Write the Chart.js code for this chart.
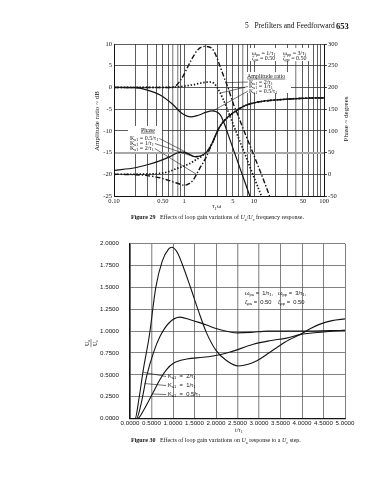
<!DOCTYPE html>
<html>
<head>
<meta charset="utf-8">
<script src="https://cdn.jsdelivr.net/npm/chart.js@4.4.1/dist/chart.umd.min.js"></script>
<style>
body{margin:0;width:388px;height:480px;background:#fff;position:relative;overflow:hidden;font-family:"Liberation Serif",serif;color:#111}
.txt{position:absolute;white-space:nowrap;line-height:1;will-change:transform}
.txt sub{font-size:70%;vertical-align:-2px;line-height:0}
#freqWrap{position:absolute;left:60px;top:36px;width:328px;height:180px}
#stepWrap{position:absolute;left:64px;top:229px;width:300px;height:207px}
</style>
</head>
<body>
<div class="txt" style="left:245px;top:22px;font-size:7.5px">5&nbsp;&nbsp;&nbsp;Prefilters and Feedforward</div>
<div class="txt" style="left:336px;top:21.5px;font-size:8.5px;font-weight:bold">653</div>
<div id="freqWrap"><canvas id="freq"></canvas></div>
<div class="txt" style="left:131px;top:214px;font-size:6px"><b>Figure 29</b>&nbsp;&nbsp;&nbsp;Effects of loop gain variations of <i>U</i><sub>a</sub>/<i>U</i><sub>c</sub> frequency response.</div>
<div id="stepWrap"><canvas id="step"></canvas></div>
<div class="txt" style="left:131px;top:437px;font-size:6px"><b>Figure 30</b>&nbsp;&nbsp;&nbsp;Effects of loop gain variations on <i>U</i><sub>a</sub> response to a <i>U</i><sub>c</sub> step.</div>
<script>
// ---- Figure 29 data: [tau1*omega, value]
const freqGrid = [0.1,0.2,0.3,0.4,0.5,0.6,0.7,0.8,0.9,1,2,3,4,5,6,7,8,9,10,20,30,40,50,60,70,80,90,100];
const freqLabels = {0.1:'0.10', 0.5:'0.50', 1:'1', 5:'5', 10:'10', 50:'50', 100:'100'};

// amplitude ratio, dB
const ampK2 = [[0.1,0],[0.3,0],[0.6,0],[0.75,0.3],[0.87,1.4],[1.0,3.0],[1.08,4.1],[1.28,6.4],[1.58,8.7],[1.98,9.45],[2.46,9.1],[2.8,7.7],[3.2,5.3],[3.7,2.5],[4.24,0],[5,-3.5],[5.9,-6.4],[7,-9.5],[10,-15.7],[14,-21.7],[16.7,-25]];
const ampK1 = [[0.1,0],[0.6,0],[0.9,0.2],[1.34,0.6],[1.8,1.05],[2.3,1.25],[2.7,0.9],[3.1,-0.5],[3.6,-2.6],[4.48,-6.4],[6,-11.6],[8,-16.7],[10,-20.7],[12.76,-25]];
const ampK05 = [[0.1,0],[0.2,-0.05],[0.29,-0.55],[0.45,-1.7],[0.7,-4.0],[0.92,-5.9],[1.25,-6.8],[1.6,-6.4],[2.08,-5.7],[2.5,-5.4],[2.9,-5.6],[3.3,-6.3],[3.7,-8.0],[4.57,-12.2],[6,-17.6],[8.7,-25]];

// phase, degrees (all three merge above ~2)
const phaseTail = [[2.5,70],[3.2,108],[4,128],[5,141],[6,150],[8,160],[12,167],[20,171],[50,175],[100,176]];
const phaseK05 = [[0.1,9],[0.2,15],[0.3,22],[0.45,31],[0.62,40],[0.8,49],[0.95,51],[1.15,47],[1.4,41],[1.7,42],[2.1,51]];
const phaseK1 = [[0.1,0],[0.3,0.5],[0.45,2],[0.6,6],[0.78,13],[1.0,19],[1.21,25],[1.5,34],[1.87,44],[2.2,55]];
const phaseK2 = [[0.1,0],[0.2,-1],[0.3,-3],[0.45,-8],[0.6,-14],[0.78,-20],[1.02,-25],[1.2,-21],[1.34,-14],[1.67,13],[2.08,40]];

// ---- Figure 30 data: [t/tau1, Ua/Uc]
const stepK2 = [[0,0],[0.12,0],[0.2,0.2],[0.31,0.56],[0.45,0.95],[0.6,1.5],[0.75,1.8],[0.9,1.94],[0.97,1.96],[1.1,1.9],[1.25,1.72],[1.4,1.51],[1.6,1.22],[1.78,0.98],[2.0,0.78],[2.25,0.66],[2.52,0.60],[2.75,0.62],[2.95,0.66],[3.2,0.74],[3.41,0.81],[3.7,0.9],[3.95,0.96],[4.2,1.03],[4.42,1.08],[4.7,1.12],[5.0,1.14]];
const stepK1 = [[0,0],[0.15,0],[0.25,0.15],[0.39,0.49],[0.55,0.76],[0.7,0.94],[0.9,1.09],[1.16,1.16],[1.4,1.13],[1.6,1.1],[1.78,1.07],[2.0,1.03],[2.33,0.99],[2.5,0.98],[2.8,0.985],[3.2,1.0],[3.6,1.0],[4.0,1.0],[5.0,1.01]];
const stepK05 = [[0,0],[0.18,0],[0.3,0.08],[0.54,0.30],[0.7,0.45],[0.85,0.56],[1.0,0.63],[1.32,0.68],[1.7,0.70],[2.09,0.73],[2.33,0.76],[2.87,0.85],[3.25,0.89],[3.64,0.92],[3.95,0.96],[4.5,0.99],[5.0,1.01]];
const stepXTicks = [0,0.5,1,1.5,2,2.5,3,3.5,4,4.5,5];
const stepYTicks = [0,0.25,0.5,0.75,1,1.25,1.5,1.75,2];

const INK = '#151515';
const SOLID = [], DOTS = [1.4, 1.8], DASHDOT = [5, 2, 1.4, 2];

function curve(points, axis, dash, width) {
    return {
        data: points.map(p => ({x: p[0], y: p[1]})),
        yAxisID: axis,
        borderColor: INK,
        borderWidth: width,
        borderDash: dash,
        pointRadius: 0,
        fill: false,
        cubicInterpolationMode: 'monotone'
    };
}

// text with _{sub} parts, drawn left aligned from x, middle at y
function rich(ctx, str, x, y, size, family) {
    const parts = str.split(/(_\{[^}]*\})/).filter(s => s.length);
    ctx.textBaseline = 'middle';
    ctx.textAlign = 'left';
    parts.forEach(p => {
        if (p.startsWith('_{')) {
            const t = p.slice(2, -1);
            ctx.font = (size * 0.7) + 'px ' + family;
            ctx.fillText(t, x, y + size * 0.3);
            x += ctx.measureText(t).width;
        } else {
            ctx.font = size + 'px ' + family;
            ctx.fillText(p, x, y);
            x += ctx.measureText(p).width;
        }
    });
    return x;
}

function leader(ctx, x1, y1, x2, y2) {
    ctx.beginPath();
    ctx.moveTo(x1, y1);
    ctx.lineTo(x2, y2);
    ctx.stroke();
}

const SERIF = '"Liberation Serif", serif';
const SANS = '"Liberation Sans", Arial, sans-serif';

// page coords -> canvas coords for Figure 29
const FX = 60, FY = 36;

const freqText = {
    id: 'freqText',
    beforeDatasetsDraw(chart) {
        const ctx = chart.ctx;
        ctx.save();
        ctx.fillStyle = '#fff';
        ctx.fillRect(250 - FX, 48 - FY, 62, 13);
        ctx.fillRect(245 - FX, 72 - FY, 46, 21);
        ctx.fillRect(128 - FX, 126 - FY, 34, 26);
        ctx.restore();
    },
    afterDraw(chart) {
        const ctx = chart.ctx, xs = chart.scales.x, ys = chart.scales.y, ps = chart.scales.y2;
        ctx.save();
        ctx.fillStyle = INK;
        ctx.strokeStyle = INK;
        ctx.lineWidth = 0.6;

        rich(ctx, 'ω_{pa} = 1/τ_{1}', 252 - FX, 53 - FY, 6, SERIF);
        rich(ctx, 'ω_{pp} = 3/τ_{1}', 283 - FX, 53 - FY, 6, SERIF);
        rich(ctx, 'ζ_{pa} = 0.50', 252 - FX, 58.5 - FY, 6, SERIF);
        rich(ctx, 'ζ_{pp} = 0.50', 283 - FX, 58.5 - FY, 6, SERIF);

        let e = rich(ctx, 'Amplitude ratio', 247 - FX, 76 - FY, 6, SERIF);
        leader(ctx, 247 - FX, 79 - FY, e, 79 - FY);
        rich(ctx, 'K_{a1} = 2/τ_{1}', 249 - FX, 82 - FY, 6, SERIF);
        rich(ctx, 'K_{a1} = 1/τ_{1}', 249 - FX, 86.5 - FY, 6, SERIF);
        rich(ctx, 'K_{a1} = 0.5/τ_{1}', 249 - FX, 91 - FY, 6, SERIF);
        leader(ctx, 248 - FX, 82 - FY, xs.getPixelForValue(4.0), ys.getPixelForValue(1.1));
        leader(ctx, 248 - FX, 86.5 - FY, xs.getPixelForValue(3.3), ys.getPixelForValue(-1.3));
        leader(ctx, 248 - FX, 91 - FY, xs.getPixelForValue(2.6), ys.getPixelForValue(-5.4));

        e = rich(ctx, 'Phase', 141 - FX, 130 - FY, 6, SERIF);
        leader(ctx, 141 - FX, 133 - FY, e, 133 - FY);
        const p1 = rich(ctx, 'K_{a1} = 0.5/τ_{1}', 130 - FX, 138.5 - FY, 6, SERIF);
        const p2 = rich(ctx, 'K_{a1} = 1/τ_{1}', 130 - FX, 143.5 - FY, 6, SERIF);
        const p3 = rich(ctx, 'K_{a1} = 2/τ_{1}', 130 - FX, 148.5 - FY, 6, SERIF);
        leader(ctx, p1 + 1, 138.5 - FY, xs.getPixelForValue(1.4), ps.getPixelForValue(41));
        leader(ctx, p2 + 1, 143.5 - FY, xs.getPixelForValue(1.6), ps.getPixelForValue(37));
        leader(ctx, p3 + 1, 148.5 - FY, xs.getPixelForValue(1.5), ps.getPixelForValue(0));

        // axis titles
        ctx.font = '7px ' + SERIF;
        ctx.textAlign = 'center';
        ctx.textBaseline = 'middle';
        ctx.save();
        ctx.translate(97 - FX, 121 - FY);
        ctx.rotate(-Math.PI / 2);
        ctx.fillText('Amplitude ratio ~ dB', 0, 0);
        ctx.restore();
        ctx.save();
        ctx.translate(346 - FX, 119 - FY);
        ctx.rotate(-Math.PI / 2);
        ctx.fillText('Phase ~ degrees', 0, 0);
        ctx.restore();
        rich(ctx, 'τ_{1}ω', 212 - FX, 206.5 - FY, 6.5, SERIF);
        ctx.restore();
    }
};

const tickFontSerif = {family: SERIF, size: 6.5};

new Chart(document.getElementById('freq'), {
    type: 'line',
    data: {
        datasets: [
            curve(ampK2, 'y', DASHDOT, 1.4),
            curve(ampK1, 'y', DOTS, 1.7),
            curve(ampK05, 'y', SOLID, 1.2),
            curve(phaseK05.concat(phaseTail), 'y2', SOLID, 1.2),
            curve(phaseK1.concat(phaseTail), 'y2', DOTS, 1.7),
            curve(phaseK2.concat(phaseTail), 'y2', DASHDOT, 1.4)
        ]
    },
    options: {
        responsive: true,
        maintainAspectRatio: false,
        animation: false,
        layout: {padding: {top: 8, right: 0, bottom: 0, left: 0}},
        plugins: {legend: {display: false}, tooltip: {enabled: false}},
        scales: {
            x: {
                type: 'logarithmic', min: 0.1, max: 100,
                afterBuildTicks: s => { s.ticks = freqGrid.map(v => ({value: v})); },
                afterFit: s => { s.height = 20; },
                ticks: {autoSkip: false, maxRotation: 0, padding: 1, color: INK, font: tickFontSerif,
                        callback: v => freqLabels[v] || ''},
                grid: {drawTicks: false, color: c => [0.7, 0.8, 7, 40].includes(c.tick && c.tick.value) ? '#9a9a9a' : '#333',
                       lineWidth: c => [0.7, 0.8, 7, 40].includes(c.tick && c.tick.value) ? 1.4 : 0.8},
                border: {color: INK, width: 1}
            },
            y: {
                min: -25, max: 10,
                afterFit: s => { s.width = 54; },
                ticks: {stepSize: 5, padding: 2, color: INK, font: tickFontSerif},
                grid: {drawTicks: false, color: c => c.tick && c.tick.value === -15 ? '#a8a8a8' : '#333',
                       lineWidth: c => c.tick && c.tick.value === -15 ? 2 : 0.8},
                border: {color: INK, width: 1}
            },
            y2: {
                position: 'right', min: -50, max: 300,
                afterFit: s => { s.width = 64; },
                ticks: {stepSize: 50, padding: 1, color: INK, font: tickFontSerif},
                grid: {drawOnChartArea: false, drawTicks: true, tickLength: 3, color: INK, lineWidth: 0.8},
                border: {color: INK, width: 1}
            }
        }
    },
    plugins: [freqText]
});

// ---- Figure 30 (page coords -> canvas coords)
const SX = 64, SY = 229;

const stepText = {
    id: 'stepText',
    afterDraw(chart) {
        const ctx = chart.ctx, xs = chart.scales.x, ys = chart.scales.y;
        ctx.save();
        ctx.fillStyle = INK;
        ctx.strokeStyle = INK;
        ctx.lineWidth = 0.6;

        rich(ctx, 'ω_{pa} =  1/τ_{1},', 245 - SX, 293 - SY, 5.8, SANS);
        rich(ctx, 'ω_{pp} =  3/τ_{1},', 278 - SX, 293 - SY, 5.8, SANS);
        rich(ctx, 'ζ_{pa} =  0.50', 245 - SX, 302 - SY, 5.8, SANS);
        rich(ctx, 'ζ_{pp} =  0.50', 278 - SX, 302 - SY, 5.8, SANS);

        rich(ctx, 'K_{a1}  =  2/τ_{1}', 168 - SX, 376.5 - SY, 5.8, SANS);
        rich(ctx, 'K_{a1}  =  1/τ_{1}', 168 - SX, 385.5 - SY, 5.8, SANS);
        rich(ctx, 'K_{a1}  =  0.5/τ_{1}', 168 - SX, 394.5 - SY, 5.8, SANS);
        leader(ctx, xs.getPixelForValue(0.3), ys.getPixelForValue(0.53), 166 - SX, 376.5 - SY);
        leader(ctx, xs.getPixelForValue(0.34), ys.getPixelForValue(0.4), 166 - SX, 385.5 - SY);
        leader(ctx, xs.getPixelForValue(0.52), ys.getPixelForValue(0.28), 166 - SX, 394.5 - SY);

        // y title as a rotated fraction
        ctx.save();
        ctx.translate(91 - SX, 343 - SY);
        ctx.rotate(-Math.PI / 2);
        rich(ctx, 'U_{a}', -3, -3.5, 6, SERIF);
        rich(ctx, 'U_{c}', -3, 4, 6, SERIF);
        ctx.lineWidth = 0.5;
        leader(ctx, -4, 0, 4, 0);
        ctx.restore();

        rich(ctx, 't/τ_{1}', 235 - SX, 430 - SY, 6, SERIF);
        ctx.restore();
    }
};

const tickFontSans = {family: SANS, size: 6.2};
const grayX = [0.5, 2.5, 3];

new Chart(document.getElementById('step'), {
    type: 'line',
    data: {
        datasets: [
            curve(stepK2, 'y', SOLID, 1.1),
            curve(stepK1, 'y', SOLID, 1.1),
            curve(stepK05, 'y', SOLID, 1.1)
        ]
    },
    options: {
        responsive: true,
        maintainAspectRatio: false,
        animation: false,
        // y tick padding (11) also pads the top, so the canvas starts a little higher
        layout: {padding: {top: 1, right: 19, bottom: 0, left: 0}},
        plugins: {legend: {display: false}, tooltip: {enabled: false}},
        scales: {
            x: {
                type: 'linear', min: 0, max: 5,
                afterBuildTicks: s => { s.ticks = stepXTicks.map(v => ({value: v})); },
                afterFit: s => { s.height = 17.5; },
                ticks: {autoSkip: false, maxRotation: 0, padding: 1, color: INK, font: tickFontSans,
                        callback: v => v.toFixed(4)},
                grid: {drawTicks: false, color: c => grayX.includes(c.tick && c.tick.value) ? '#a0a0a0' : '#4a4a4a',
                       lineWidth: c => grayX.includes(c.tick && c.tick.value) ? 1.4 : 0.7},
                border: {color: INK, width: 1.2}
            },
            y: {
                min: 0, max: 2,
                afterBuildTicks: s => { s.ticks = stepYTicks.map(v => ({value: v})); },
                afterFit: s => { s.width = 66; },
                ticks: {padding: 11, color: INK, font: tickFontSans, callback: v => v.toFixed(4)},
                grid: {drawTicks: false, color: '#4a4a4a', lineWidth: 0.7},
                border: {color: INK, width: 1.2}
            }
        }
    },
    plugins: [stepText]
});
</script>
</body>
</html>
